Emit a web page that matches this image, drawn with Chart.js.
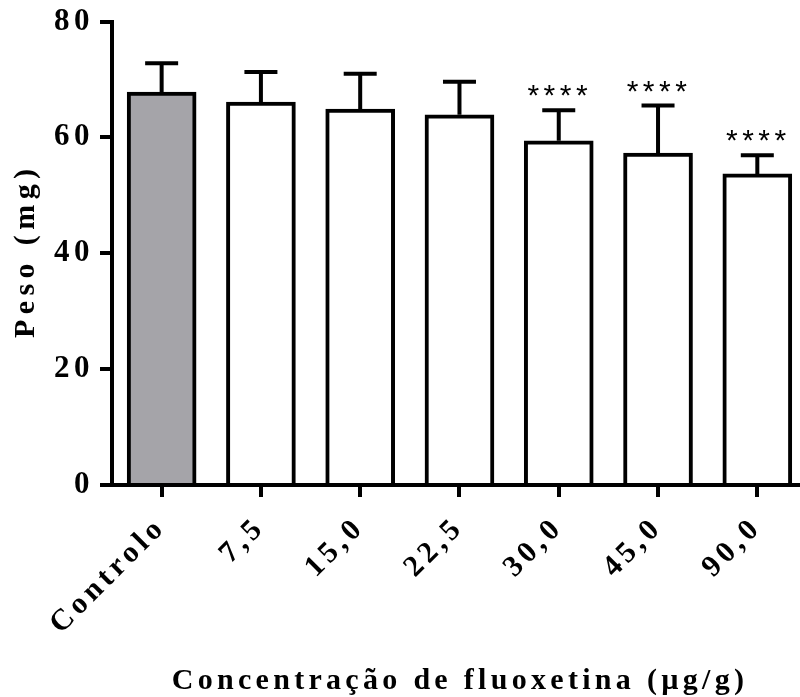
<!DOCTYPE html>
<html>
<head>
<meta charset="utf-8">
<script src="https://cdn.jsdelivr.net/npm/chart.js@4.4.1/dist/chart.umd.min.js"></script>
<style>
    html, body { margin: 0; padding: 0; background: #ffffff; overflow: hidden; }
    canvas { display: block; }
</style>
</head>
<body>
<canvas id="pesoChart" width="800" height="697"></canvas>
<script>
const categorias = ['Controlo', '7,5', '15,0', '22,5', '30,0', '45,0', '90,0'];
const pesoMedio = [67.8, 66.1, 64.9, 63.9, 59.4, 57.3, 53.7];
const pesoDesvio = [5.0, 5.2, 6.1, 5.7, 5.3, 8.2, 3.2];
const significancia = ['', '', '', '', '****', '****', '****'];
const yTicks = [0, 20, 40, 60, 80];
const tituloX = 'Concentração de fluoxetina (µg/g)';
const tituloY = 'Peso (mg)';

const fonteSerif = "'Liberation Serif', 'Times New Roman', serif";

const espacamentoPlugin = {
    id: 'espacamento',
    beforeDraw: function(chart) {
        chart.ctx.letterSpacing = '4.5px';
    }
};

const barrasErroPlugin = {
    id: 'barrasErro',
    afterDatasetsDraw: function(chart) {
        const ctx = chart.ctx;
        const yScale = chart.scales.y;
        const meta = chart.getDatasetMeta(0);

        ctx.save();
        ctx.strokeStyle = '#000000';
        ctx.fillStyle = '#000000';
        ctx.lineWidth = 4;
        meta.data.forEach(function(bar, i) {
            const yTop = yScale.getPixelForValue(pesoMedio[i] + pesoDesvio[i]);
            ctx.beginPath();
            ctx.moveTo(bar.x, bar.y);
            ctx.lineTo(bar.x, yTop);
            ctx.moveTo(bar.x - 16.5, yTop);
            ctx.lineTo(bar.x + 16.5, yTop);
            ctx.stroke();

            if (significancia[i]) {
                ctx.font = "30px 'Liberation Sans', Arial, sans-serif";
                ctx.letterSpacing = '4.5px';
                ctx.textAlign = 'center';
                ctx.textBaseline = 'alphabetic';
                ctx.fillText(significancia[i], bar.x + 1, yTop - 5);
            }
        });
        ctx.restore();
    }
};

const titulosPlugin = {
    id: 'titulosEixos',
    afterDraw: function(chart) {
        const ctx = chart.ctx;
        const area = chart.chartArea;

        ctx.save();
        ctx.fillStyle = '#000000';
        ctx.font = 'bold 30px ' + fonteSerif;
        ctx.textAlign = 'center';
        ctx.textBaseline = 'alphabetic';

        ctx.letterSpacing = '4.3px';
        ctx.fillText(tituloX, (area.left + area.right) / 2 + 4, 689);

        ctx.letterSpacing = '5.4px';
        ctx.translate(34, (area.top + area.bottom) / 2 - 2.5);
        ctx.rotate(-Math.PI / 2);
        ctx.fillText(tituloY, 0, 0);
        ctx.restore();
    }
};

const pontos = categorias.map(function(nome, i) {
    return { x: i, y: pesoMedio[i] };
});

new Chart(document.getElementById('pesoChart'), {
    type: 'bar',
    data: {
        datasets: [{
            data: pontos,
            backgroundColor: function(context) {
                return context.dataIndex === 0 ? '#a5a4a9' : '#ffffff';
            },
            borderColor: '#000000',
            borderWidth: 4,
            borderSkipped: 'start',
            barThickness: 69
        }]
    },
    options: {
        responsive: false,
        animation: false,
        events: [],
        layout: {
            padding: { top: 20, left: 0, right: 0, bottom: 0 }
        },
        plugins: {
            legend: { display: false },
            tooltip: { enabled: false }
        },
        scales: {
            x: {
                type: 'linear',
                min: -0.5,
                max: 6.43,
                offset: false,
                afterBuildTicks: function(scale) {
                    scale.ticks = categorias.map(function(nome, i) {
                        return { value: i };
                    });
                },
                afterFit: function(scale) {
                    scale.height = 212;
                },
                grid: {
                    offset: false,
                    drawOnChartArea: false,
                    drawTicks: true,
                    tickLength: 12,
                    lineWidth: 4,
                    tickWidth: 4,
                    tickColor: '#000000',
                    color: '#000000'
                },
                border: {
                    display: true,
                    color: '#000000',
                    width: 4
                },
                ticks: {
                    autoSkip: false,
                    minRotation: 45,
                    maxRotation: 45,
                    padding: 13,
                    labelOffset: 0,
                    color: '#000000',
                    font: { family: fonteSerif, size: 30, weight: 'bold' },
                    callback: function(value) {
                        return categorias[value];
                    }
                }
            },
            y: {
                min: 0,
                max: 80,
                afterBuildTicks: function(scale) {
                    scale.ticks = yTicks.map(function(v) {
                        return { value: v };
                    });
                },
                afterFit: function(scale) {
                    scale.width = 112;
                },
                grid: {
                    drawOnChartArea: false,
                    drawTicks: true,
                    tickLength: 12,
                    lineWidth: 4,
                    tickWidth: 4,
                    tickColor: '#000000',
                    color: '#000000'
                },
                border: {
                    display: true,
                    color: '#000000',
                    width: 4
                },
                ticks: {
                    padding: 6,
                    color: '#000000',
                    font: { family: fonteSerif, size: 31, weight: 'bold', lineHeight: 1 }
                }
            }
        }
    },
    plugins: [espacamentoPlugin, barrasErroPlugin, titulosPlugin]
});
</script>
</body>
</html>
